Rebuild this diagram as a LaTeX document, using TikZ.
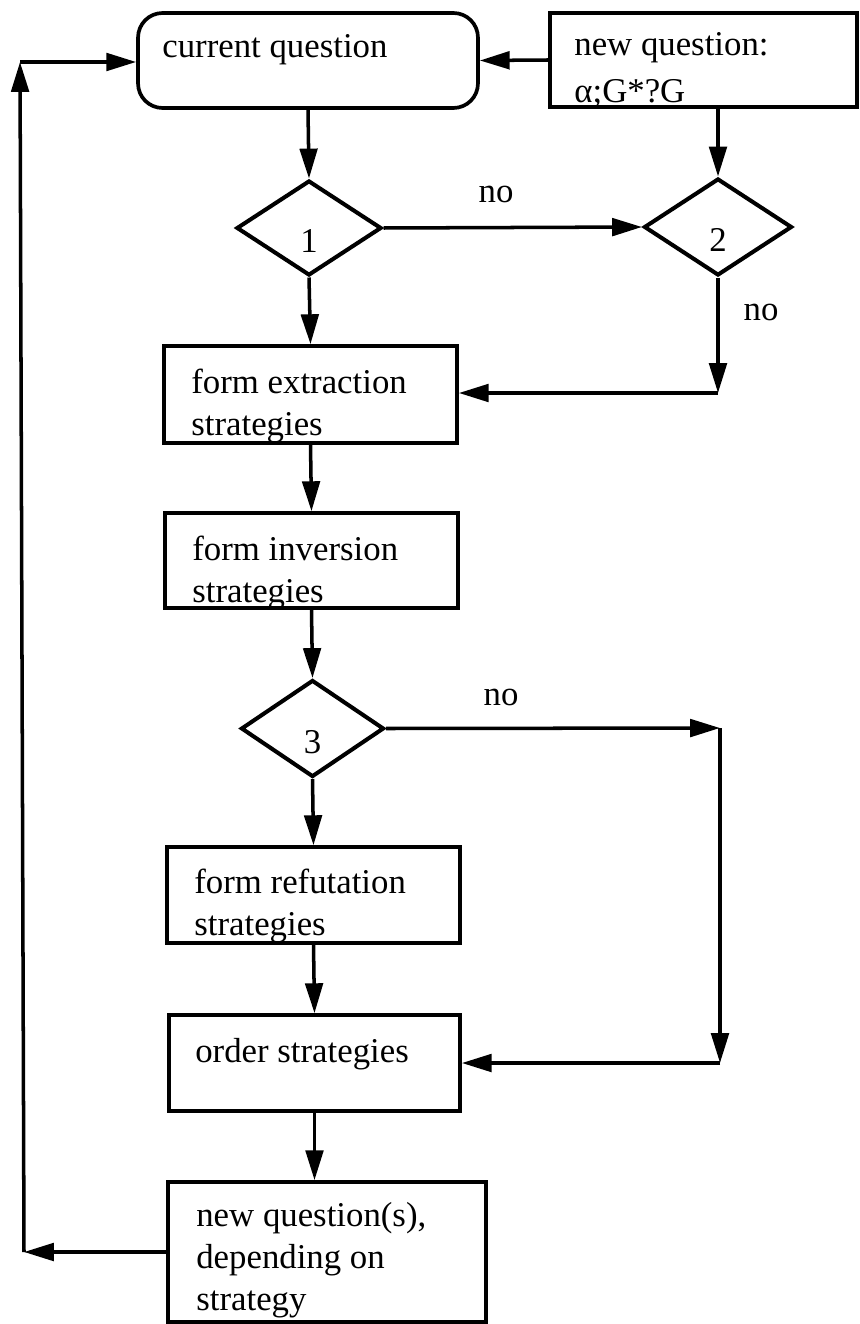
\documentclass[tikz,border=0pt]{standalone}
\usepackage{fontspec}
\setmainfont{Liberation Serif}
\usetikzlibrary{arrows.meta,shapes.geometric}

\begin{document}
\begin{tikzpicture}[x=0.02cm,y=-0.02cm,
    box/.style={draw,line width=2.1pt,rectangle,inner sep=0pt},
    test/.style={draw,line width=2.3pt,diamond,inner sep=0pt,text height=28pt,text depth=0pt},
    txt/.style={anchor=base west,align=left,inner sep=0pt},
    flow/.style={line width=2pt,-{Triangle[length=17pt,width=10pt]}},
    every node/.style={font=\fontsize{19.8}{23.8}\selectfont}]
    \useasboundingbox (0,0) rectangle (859,1324);
    \clip (0,0) rectangle (859,1324);
    % boxes and tests
    \node[box,rounded corners=14pt,minimum width=6.8cm,minimum height=1.9cm] (cur) at (308,60.5) {};
    \node[box,minimum width=6.14cm,minimum height=1.88cm] (newq) at (703.5,60) {};
    \node[test,minimum width=2.9cm,minimum height=1.9cm] (d1) at (309,228) {1};
    \node[test,minimum width=2.96cm,minimum height=1.94cm] (d2) at (718,227) {2};
    \node[box,minimum width=5.86cm,minimum height=1.94cm] (ext) at (310.5,394.5) {};
    \node[box,minimum width=5.86cm,minimum height=1.9cm] (inv) at (311.5,560.5) {};
    \node[test,minimum width=2.86cm,minimum height=1.94cm] (d3) at (312.5,728.5) {3};
    \node[box,minimum width=5.86cm,minimum height=1.92cm] (ref) at (313.5,895) {};
    \node[box,minimum width=5.82cm,minimum height=1.92cm] (ord) at (314.5,1063) {};
    \node[box,minimum width=6.36cm,minimum height=2.8cm] (nqs) at (327,1252) {};
    % texts, placed on their last baseline
    \node[txt] (curT) at (162,58) {current question};
    \node[txt] (newqT) at (574,103) {new question:\\[3pt]α;G*?G};
    \node[txt] (extT) at (191,435) {form extraction\\strategies};
    \node[txt] (invT) at (192,602) {form inversion\\strategies};
    \node[txt] (refT) at (194,935) {form refutation\\strategies};
    \node[txt] (ordT) at (195,1062) {order strategies};
    \node[txt] (nqsT) at (196,1310) {new question(s),\\depending on\\strategy};
    \node[anchor=base] (no1) at (496,203) {no};
    \node[anchor=base] (no2) at (761,320) {no};
    \node[anchor=base] (no3) at (501,705) {no};
    % corners of the side lines
    \coordinate (lt) at (20,62);
    \coordinate (lb) at (24,1252);
    \coordinate (c2) at (718,393);
    \coordinate (c3) at (720,728);
    \coordinate (c4) at (720,1063);
    % connectors
    \draw[flow] (newq.west) -- (cur.east);
    \draw[flow] (cur.south) -- (d1.north);
    \draw[flow] (d2.north |- newq.south) -- (d2.north);
    \draw[flow] (d1.east) -- (d2.west);
    \draw[flow] (d2.south) -- (c2);
    \draw[flow] (c2) -- (ext.east |- c2);
    \draw[flow] (d1.south) -- (ext.north);
    \draw[flow] (ext.south) -- (inv.north);
    \draw[flow] (inv.south) -- (d3.north);
    \draw[flow] (d3.east) -- (c3);
    \draw[flow] (c3) -- (c4);
    \draw[flow] (c4) -- (ord.east |- c4);
    \draw[flow] (d3.south) -- (ref.north);
    \draw[flow] (ref.south) -- (ord.north);
    \draw[flow] (ord.south) -- (ord.south |- nqs.north);
    \draw[flow] (nqs.west) -- (lb);
    \draw[flow] (lb) -- (lt);
    \draw[flow] (lt) -- (cur.west |- lt);
\end{tikzpicture}
\end{document}
